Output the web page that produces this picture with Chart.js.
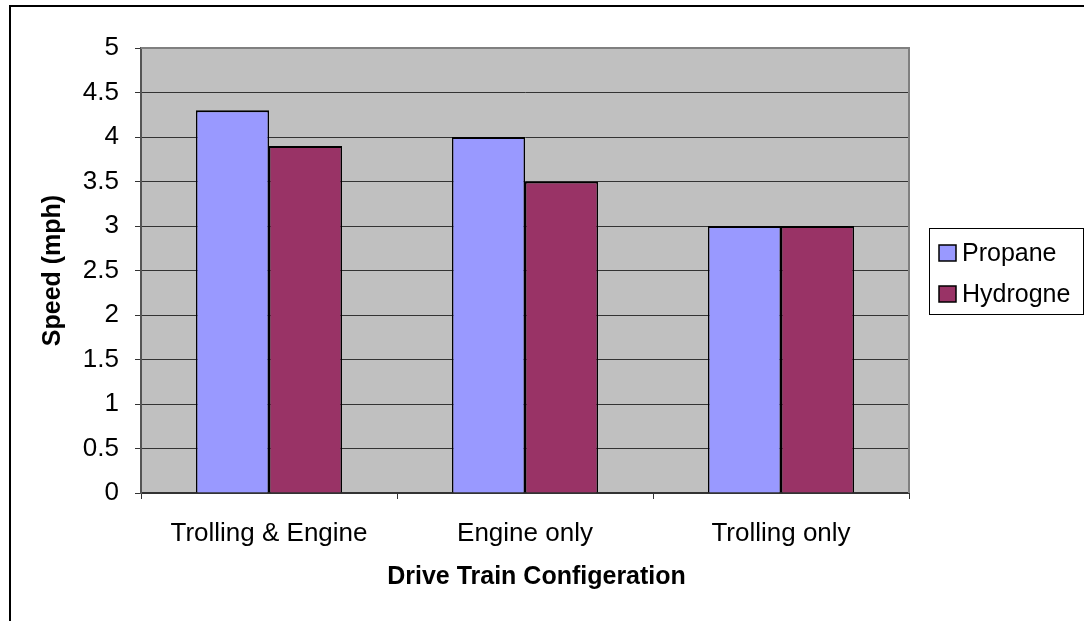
<!DOCTYPE html>
<html>
<head>
<meta charset="utf-8">
<title>Speed by Drive Train Configeration</title>
<script src="https://cdn.jsdelivr.net/npm/chart.js@4/dist/chart.umd.min.js"></script>
<style>
  html, body { margin: 0; padding: 0; background: #ffffff; }
  #wrap { width: 1084px; height: 621px; position: relative; }
</style>
</head>
<body>
<div id="wrap"><canvas id="chart" width="1084" height="621"></canvas></div>
<script>
// Chart data
const categories = ['Trolling & Engine', 'Engine only', 'Trolling only'];
const propane = [4.3, 4.0, 3.0];
const hydrogne = [3.9, 3.5, 3.0];
const seriesNames = ['Propane', 'Hydrogne'];
const yTicks = [0, 0.5, 1, 1.5, 2, 2.5, 3, 3.5, 4, 4.5, 5];
const xTitle = 'Drive Train Configeration';
const yTitle = 'Speed (mph)';

const FONT = "'Liberation Sans', Arial, sans-serif";
const FS = 25;      // titles and legend
const TICK_FS = 26; // axis tick labels

// Grey plot background, plot border, outer frame, x-axis title and side legend
const decor = {
  id: 'decor',
  beforeDraw(chart) {
    const { ctx, chartArea: a } = chart;
    ctx.save();
    ctx.fillStyle = '#ffffff';
    ctx.fillRect(0, 0, chart.width, chart.height);
    ctx.fillStyle = '#c0c0c0';
    ctx.fillRect(a.left, a.top, a.right - a.left, a.bottom - a.top);
    ctx.restore();
  },
  afterDatasetsDraw(chart) {
    const { ctx, chartArea: a } = chart;
    ctx.save();
    ctx.strokeStyle = '#808080';
    ctx.lineWidth = 2;
    ctx.beginPath();
    ctx.moveTo(a.left, a.top);
    ctx.lineTo(a.right, a.top);
    ctx.lineTo(a.right, a.bottom);
    ctx.stroke();
    ctx.restore();
  },
  afterDraw(chart) {
    const { ctx } = chart;
    ctx.save();
    // outer chart frame
    ctx.strokeStyle = '#000000';
    ctx.lineWidth = 2;
    ctx.strokeRect(10, 6, chart.width + 20, chart.height + 20);

    // category axis title, centred under the whole chart body
    ctx.fillStyle = '#000000';
    ctx.font = 'bold ' + FS + 'px ' + FONT;
    ctx.textAlign = 'center';
    ctx.textBaseline = 'alphabetic';
    ctx.fillText(xTitle, 536.5, 584);

    // legend box
    const lx = 929.5, ly = 228.5, lw = 154, lh = 86;
    ctx.fillStyle = '#ffffff';
    ctx.fillRect(lx, ly, lw, lh);
    ctx.lineWidth = 1;
    ctx.strokeStyle = '#000000';
    ctx.strokeRect(lx, ly, lw, lh);
    const rows = [253, 294];
    chart.data.datasets.forEach((ds, i) => {
      const cy = rows[i];
      ctx.fillStyle = ds.backgroundColor;
      ctx.fillRect(939, cy - 8, 17, 16);
      ctx.lineWidth = 1.5;
      ctx.strokeStyle = '#000000';
      ctx.strokeRect(939, cy - 8, 17, 16);
      ctx.fillStyle = '#000000';
      ctx.font = FS + 'px ' + FONT;
      ctx.textAlign = 'left';
      ctx.textBaseline = 'middle';
      ctx.fillText(ds.label, 962, cy + 1);
    });
    ctx.restore();
  }
};

new Chart(document.getElementById('chart'), {
  type: 'bar',
  data: {
    labels: categories,
    datasets: [
      {
        label: seriesNames[0],
        data: propane,
        backgroundColor: '#9999ff',
        borderColor: '#000000',
        borderWidth: { top: 2, left: 1.5, right: 1.5, bottom: 0 },
        borderSkipped: false,
        categoryPercentage: 146 / 256,
        barPercentage: 1.0
      },
      {
        label: seriesNames[1],
        data: hydrogne,
        backgroundColor: '#993366',
        borderColor: '#000000',
        borderWidth: { top: 2, left: 1.5, right: 1.5, bottom: 0 },
        borderSkipped: false,
        categoryPercentage: 146 / 256,
        barPercentage: 1.0
      }
    ]
  },
  options: {
    responsive: false,
    animation: false,
    devicePixelRatio: 1,
    layout: { padding: { left: 0, top: 48, right: 175, bottom: 0 } },
    plugins: {
      legend: { display: false },
      tooltip: { enabled: false },
      title: { display: false }
    },
    scales: {
      x: {
        offset: true,
        grid: { display: true, drawOnChartArea: false, drawTicks: true, tickLength: 6, offset: true, color: '#333333', lineWidth: 1 },
        border: { display: true, color: '#333333', width: 2 },
        ticks: { color: '#000000', font: { family: FONT, size: TICK_FS }, padding: 19, maxRotation: 0, autoSkip: false },
        title: { display: false },
        afterFit(scale) { scale.height = 128; }
      },
      y: {
        min: 0,
        max: 5,
        afterBuildTicks(scale) { scale.ticks = yTicks.map(v => ({ value: v })); },
        grid: { display: true, drawOnChartArea: true, drawTicks: true, tickLength: 6, color: '#333333', lineWidth: 1 },
        border: { display: true, color: '#555555', width: 2 },
        ticks: { color: '#000000', font: { family: FONT, size: TICK_FS }, padding: 16, callback: v => String(v) },
        title: { display: true, text: yTitle, color: '#000000', font: { family: FONT, size: FS, weight: 'bold' }, padding: { top: 38, bottom: 0 } },
        afterFit(scale) { scale.width = 141; }
      }
    }
  },
  plugins: [decor]
});
</script>
</body>
</html>
